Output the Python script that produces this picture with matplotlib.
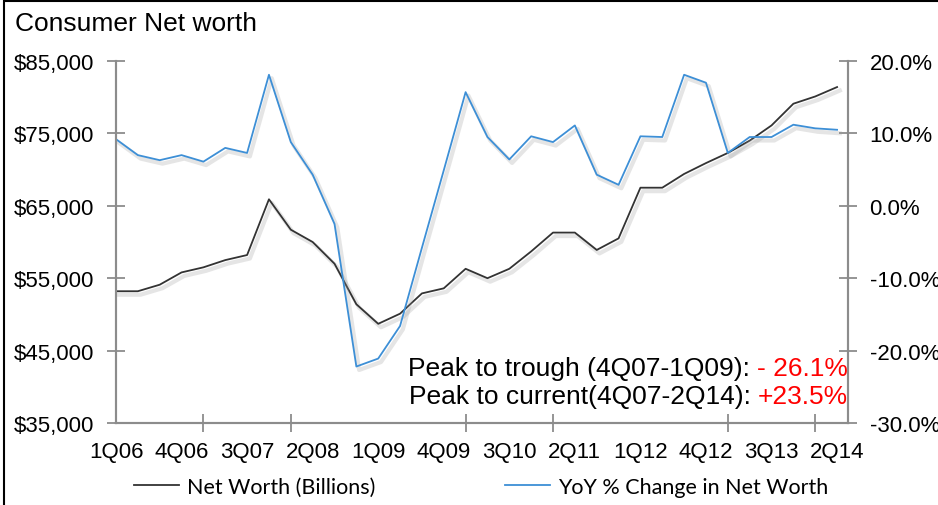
import matplotlib
matplotlib.use("Agg")
import matplotlib.pyplot as plt
import matplotlib.patheffects as pe
from matplotlib.patches import Rectangle
from matplotlib.ticker import FuncFormatter, FixedLocator

# quarterly data 1Q06 .. 2Q14
quarters = [f"{q}Q{y:02d}" for y in range(6, 15) for q in range(1, 5)][:34]
net_worth = [53200, 53200, 54100, 55800, 56500, 57500, 58200, 65900, 61700, 60000,
             57000, 51400, 48700, 50100, 52900, 53600, 56300, 55000, 56300, 58700,
             61300, 61300, 58900, 60500, 67500, 67500, 69400, 70900, 72300, 74000,
             76100, 79100, 80100, 81400]
yoy = [9.2, 7.0, 6.3, 7.0, 6.1, 8.0, 7.3, 18.1, 8.8, 4.3,
       -2.5, -22.2, -21.1, -16.6, -5.8, 4.9, 15.7, 9.5, 6.4, 9.6,
       8.8, 11.1, 4.3, 2.9, 9.6, 9.5, 18.1, 17.0, 7.3, 9.5,
       9.5, 11.2, 10.7, 10.5]

plt.rcParams['font.family'] = ['Liberation Sans', 'DejaVu Sans']

fig = plt.figure(figsize=(9.38, 5.06), dpi=100)
ax = fig.add_axes([116/938, 1-424/506, (848-116)/938, (424-62)/506])
ax2 = ax.twinx()

x = list(range(len(quarters)))
shadow = [pe.SimpleLineShadow(offset=(2, -2.5), shadow_color='#999999', alpha=0.25, linewidth=3),
          pe.Normal()]
ax.plot(x, net_worth, color='#333333', lw=1.3, path_effects=shadow, label='Net Worth (Billions)')
ax2.plot(x, yoy, color='#3d8fd6', lw=1.3, path_effects=shadow, label='YoY % Change in Net Worth')

ax.set_xlim(0, 33.5)
ax.set_ylim(35000, 85000)
ax2.set_ylim(-30, 20)
ax.set_yticks(range(35000, 85001, 10000))
ax2.set_yticks(range(-30, 21, 10))
ax.yaxis.set_major_formatter(FuncFormatter(lambda v, p: f"${v:,.0f}"))
ax2.yaxis.set_major_formatter(FuncFormatter(lambda v, p: f"{v:.1f}%"))

# labels every 3 quarters, tick marks every 4 quarters
ax.xaxis.set_major_locator(FixedLocator(x[::3]))
ax.set_xticklabels(quarters[::3])
ax.xaxis.set_minor_locator(FixedLocator(x[::4]))
ax.tick_params(axis='x', which='major', length=0, pad=13, labelsize=16)
ax.tick_params(axis='x', which='minor', direction='inout', length=13, width=1.3, color='#8c8c8c')
ax.tick_params(axis='y', direction='inout', length=13, width=1.3, color='#8c8c8c', pad=9, labelsize=16)
ax2.tick_params(axis='y', direction='inout', length=13, width=1.3, color='#8c8c8c', pad=9, labelsize=16)

for a in (ax, ax2):
    a.spines['top'].set_visible(False)
    for s in ('left', 'right', 'bottom'):
        a.spines[s].set_color('#8c8c8c')
        a.spines[s].set_linewidth(1.5)

fig.text(15/938, 1-31/506, 'Consumer Net worth', fontsize=19, va='baseline')

# peak annotations: black text followed by red value
fig.canvas.draw()
renderer = fig.canvas.get_renderer()
notes = [('Peak to trough (4Q07-1Q09): ', '- 26.1%', 0.133),
         ('Peak to current(4Q07-2Q14): ', '+23.5%', 0.055)]
for black, red, yf in notes:
    t = ax.text(1.0, yf, red, color='red', fontsize=19, ha='right', va='baseline',
                transform=ax.transAxes)
    bb = t.get_window_extent(renderer)
    x0 = ax.transAxes.inverted().transform((bb.x0, bb.y0))[0]
    ax.text(x0, yf, black, color='black', fontsize=19, ha='right', va='baseline',
            transform=ax.transAxes)

h1, l1 = ax.get_legend_handles_labels()
h2, l2 = ax2.get_legend_handles_labels()
leg = fig.legend(h1 + h2, l1 + l2, loc='center', bbox_to_anchor=(0.513, 1-488/506), ncol=2,
                 frameon=False, handlelength=2.1, columnspacing=6.0, handletextpad=0.37,
                 prop={'family': 'Lato', 'size': 15.5})
for line in leg.get_lines():
    line.set_path_effects([])

fig.patches.append(Rectangle((4/938, -0.1), 1.2, 1.1 - 2/506, transform=fig.transFigure,
                             fill=False, edgecolor='black', lw=1.5))

fig.savefig('out.png', dpi=100)
